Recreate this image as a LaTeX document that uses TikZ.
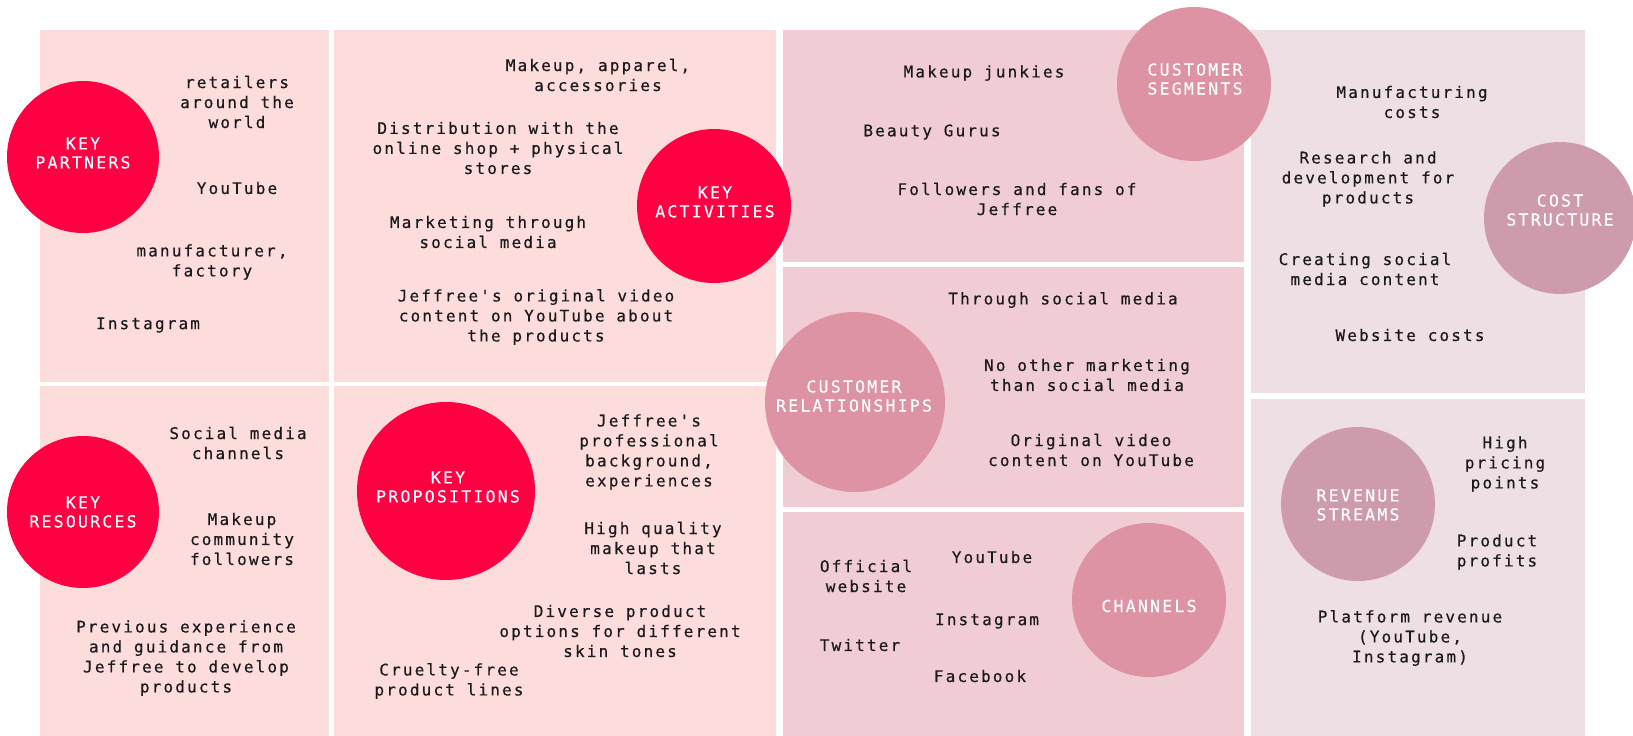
\documentclass[tikz,border=0pt]{standalone}
\usepackage{fontspec}
\newfontfamily\bmcfont{DejaVu Sans Mono}[LetterSpace=13.5,FakeBold=0.4]
\definecolor{boxA}{HTML}{FDDCDC}
\definecolor{circA}{HTML}{FF0042}
\definecolor{boxB}{HTML}{F0CDD4}
\definecolor{circB}{HTML}{DE93A4}
\definecolor{boxC}{HTML}{EEDFE4}
\definecolor{circC}{HTML}{CD9BAB}
\definecolor{txt}{HTML}{1A1A1A}
\begin{document}
\begin{tikzpicture}[x=1pt,y=-1pt,
  bubble/.style={circle, draw=none, inner sep=0pt, minimum size=#1},
  lbl/.style={font=\bmcfont\fontsize{16.5}{19}\selectfont, text=white, align=center, inner sep=0pt},
  item/.style={font=\bmcfont\fontsize{16}{20}\selectfont, text=txt, align=center, inner sep=0pt}]
\useasboundingbox (0,0) rectangle (1633,736);
\fill[white] (0,0) rectangle (1633,736);
% boxes
\fill[boxA] (40,30) rectangle (329,382);
\fill[boxA] (40,386) rectangle (329,736);
\fill[boxA] (334,30) rectangle (776,382);
\fill[boxA] (334,386) rectangle (776,736);
\fill[boxB] (783,30) rectangle (1244,262);
\fill[boxB] (783,267) rectangle (1244,507);
\fill[boxB] (783,512) rectangle (1244,736);
\fill[boxC] (1251,30) rectangle (1585,393);
\fill[boxC] (1251,399) rectangle (1585,736);
% circles
\node[bubble=152pt, fill=circA] (kpc) at (83,157) {};
\node[lbl] (kpl) at (83,153) {KEY\\PARTNERS};
\node[bubble=152pt, fill=circA] (krc) at (83,512) {};
\node[lbl] (krl) at (83,512) {KEY\\RESOURCES};
\node[bubble=154pt, fill=circA] (kac) at (714,206) {};
\node[lbl] (kal) at (715,202) {KEY\\ACTIVITIES};
\node[bubble=178pt, fill=circA] (kvc) at (446,491) {};
\node[lbl] (kvl) at (448,487) {KEY\\PROPOSITIONS};
\node[bubble=154pt, fill=circB] (csc) at (1194,84) {};
\node[lbl] (csl) at (1195,79) {CUSTOMER\\SEGMENTS};
\node[bubble=180pt, fill=circB] (crc) at (855,402) {};
\node[lbl] (crl) at (854,396) {CUSTOMER\\RELATIONSHIPS};
\node[bubble=154pt, fill=circB] (chc) at (1149,600) {};
\node[lbl] (chl) at (1149,606) {CHANNELS};
\node[bubble=152pt, fill=circC] (coc) at (1560,218) {};
\node[lbl] (col) at (1560,210) {COST\\STRUCTURE};
\node[bubble=154pt, fill=circC] (rvc) at (1358,504) {};
\node[lbl] (rvl) at (1358,505) {REVENUE\\STREAMS};
% key partners
\node[item] (kp1) at (237,102) {retailers\\around the\\world};
\node[item] (kp2) at (237,188) {YouTube};
\node[item] (kp3) at (212,262) {manufacturer,\\factory};
\node[item] (kp4) at (148,325) {Instagram};
% key resources
\node[item] (kr1) at (238,443) {Social media\\channels};
\node[item] (kr2) at (242,539) {Makeup\\community\\followers};
\node[item] (kr3) at (186,658) {Previous experience\\and guidance from\\Jeffree to develop\\products};
% key activities
\node[item] (ka1) at (598,75) {Makeup, apparel,\\accessories};
\node[item] (ka2) at (498,148) {Distribution with the\\online shop + physical\\stores};
\node[item] (ka3) at (488,232) {Marketing through\\social media};
\node[item] (ka4) at (536,317) {Jeffree's original video\\content on YouTube about\\the products};
% key propositions
\node[item] (kv1) at (649,452) {Jeffree's\\professional\\background,\\experiences};
\node[item] (kv2) at (653,548) {High quality\\makeup that\\lasts};
\node[item] (kv3) at (620,631) {Diverse product\\options for different\\skin tones};
\node[item] (kv4) at (449,681) {Cruelty-free\\product lines};
% customer segments
\node[item] (cs1) at (984,73) {Makeup junkies};
\node[item] (cs2) at (932,132) {Beauty Gurus};
\node[item] (cs3) at (1017,199) {Followers and fans of\\Jeffree};
% customer relationships
\node[item] (cr1) at (1063,300) {Through social media};
\node[item] (cr2) at (1087,375) {No other marketing\\than social media};
\node[item] (cr3) at (1091,450) {Original video\\content on YouTube};
% channels
\node[item] (ch1) at (866,576) {Official\\website};
\node[item] (ch2) at (992,557) {YouTube};
\node[item] (ch3) at (987,621) {Instagram};
\node[item] (ch4) at (860,645) {Twitter};
\node[item] (ch5) at (980,676) {Facebook};
% cost structure
\node[item] (co1) at (1412,102) {Manufacturing\\costs};
\node[item] (co2) at (1368,179) {Research and\\development for\\products};
\node[item] (co3) at (1365,269) {Creating social\\media content};
\node[item] (co4) at (1410,335) {Website costs};
% revenue streams
\node[item] (rv1) at (1505,464) {High\\pricing\\points};
\node[item] (rv2) at (1497,552) {Product\\profits};
\node[item] (rv3) at (1410,638) {Platform revenue\\(YouTube,\\Instagram)};
\end{tikzpicture}
\end{document}
